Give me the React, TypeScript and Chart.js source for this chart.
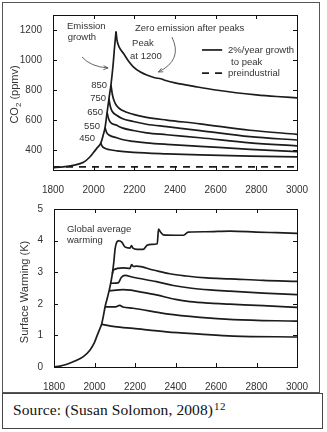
import React, { useEffect, useRef } from "react";
import { Chart, registerables } from "chart.js";

Chart.register(...registerables);

// ---------- DATA ----------
const yearTicks = [1800, 2000, 2200, 2400, 2600, 2800, 3000];
const co2Ticks = [400, 600, 800, 1000, 1200];
const tempTicks = [0, 1, 2, 3, 4, 5];

// CO2 (ppmv)
const co2GrowthYears = [1800, 1850, 1900, 1950, 1980, 2000, 2015, 2035, 2047, 2056, 2066, 2075, 2085, 2095, 2103, 2110];
const co2GrowthVals = [283, 288, 298, 318, 352, 385, 411, 446, 500, 550, 650, 740, 835, 960, 1090, 1190];

const co2P1200Years = [2110, 2114, 2120, 2130, 2146, 2170, 2195, 2230, 2261, 2300, 2330, 2350, 2400, 2460, 2500, 2600, 2700, 2800, 2900, 3000];
const co2P1200Vals = [1190, 1140, 1105, 1075, 1045, 995, 955, 920, 900, 882, 875, 865, 848, 833, 823, 800, 782, 768, 757, 748];

const co2P850Years = [2085, 2092, 2100, 2113, 2140, 2195, 2260, 2359, 2523, 2769, 3000];
const co2P850Vals = [835, 770, 730, 695, 665, 638, 618, 600, 575, 532, 505];

const co2P750Years = [2075, 2082, 2090, 2113, 2140, 2195, 2260, 2359, 2523, 2769, 3000];
const co2P750Vals = [740, 690, 660, 632, 610, 590, 572, 556, 530, 489, 467];

const co2P650Years = [2066, 2073, 2082, 2113, 2140, 2195, 2260, 2359, 2523, 2769, 3000];
const co2P650Vals = [650, 610, 585, 565, 548, 530, 515, 502, 482, 448, 428];

const co2P550Years = [2056, 2063, 2075, 2113, 2140, 2195, 2260, 2359, 2523, 2769, 3000];
const co2P550Vals = [550, 520, 500, 482, 470, 458, 448, 438, 425, 405, 390];

const co2P450Years = [2035, 2042, 2055, 2080, 2113, 2195, 2359, 2523, 2769, 3000];
const co2P450Vals = [446, 425, 412, 402, 395, 385, 375, 368, 360, 355];

const preindustrialYears = [1800, 3000];
const preindustrialVals = [288, 288];

// Surface warming (K)
const tGrowthYears = [1800, 1830, 1860, 1900, 1945, 1978, 2000, 2011, 2027, 2035, 2044, 2052, 2062, 2072, 2080, 2088, 2095, 2102, 2110, 2122];
const tGrowthVals = [0, 0.03, 0.08, 0.18, 0.33, 0.54, 0.78, 0.96, 1.22, 1.35, 1.62, 1.9, 2.15, 2.41, 2.65, 2.95, 3.3, 3.75, 3.95, 4.0];

const t1200Years = [2122, 2135, 2150, 2175, 2183, 2190, 2210, 2240, 2260, 2282, 2310, 2316, 2325, 2340, 2400, 2440, 2463, 2550, 2669, 2800, 2900, 3000];
const t1200Vals = [4.0, 3.95, 3.8, 3.76, 3.84, 3.76, 3.72, 3.72, 3.85, 3.88, 3.9, 4.36, 4.28, 4.18, 4.17, 4.17, 4.27, 4.28, 4.3, 4.27, 4.25, 4.23];

const t850Years = [2088, 2093, 2142, 2175, 2183, 2192, 2207, 2290, 2372, 2454, 2553, 2669, 2833, 3000];
const t850Vals = [2.95, 3.07, 3.14, 3.12, 3.24, 3.18, 3.19, 3.07, 2.95, 2.88, 2.82, 2.79, 2.74, 2.71];

const t750Years = [2080, 2117, 2133, 2150, 2191, 2306, 2389, 2471, 2570, 2669, 2833, 3000];
const t750Vals = [2.65, 2.66, 2.84, 2.9, 2.84, 2.7, 2.58, 2.5, 2.44, 2.4, 2.34, 2.29];

const t650Years = [2072, 2142, 2180, 2224, 2306, 2400, 2471, 2570, 2669, 2833, 3000];
const t650Vals = [2.41, 2.45, 2.43, 2.38, 2.28, 2.14, 2.07, 2.02, 1.99, 1.94, 1.89];

const t550Years = [2052, 2100, 2125, 2140, 2191, 2356, 2521, 2686, 3000];
const t550Vals = [1.9, 1.9, 1.95, 1.9, 1.86, 1.68, 1.57, 1.5, 1.45];

const t450Years = [2035, 2100, 2191, 2356, 2521, 2686, 3000];
const t450Vals = [1.35, 1.28, 1.22, 1.11, 1.04, 0.98, 0.95];

// labels
const scenarioLabels = ["850", "750", "650", "550", "450"];
const scenarioLabelPos = [
  [2066, 833],
  [2061, 747],
  [2046, 653],
  [2031, 560],
  [2007, 480],
];

// ---------- STYLE ----------
const SANS = "'Liberation Sans', Arial, sans-serif";
const TXT = "#333";
const LINE = "#1c1c1c";

const pts = (xs: number[], ys: number[]) => xs.map((x, i) => ({ x, y: ys[i] }));

const lineDs = (data: any, dash: number[] = []) => ({
  data,
  borderColor: LINE,
  borderWidth: 1.7,
  pointRadius: 0,
  fill: false,
  cubicInterpolationMode: "monotone" as const,
  borderDash: dash,
});

function frameAndTicks(chart: any, xt: number[], yt: number[]) {
  const { ctx, chartArea: a, scales } = chart;
  ctx.save();
  ctx.strokeStyle = "#111";
  ctx.lineWidth = 1;
  ctx.strokeRect(Math.round(a.left) + 0.5, Math.round(a.top) + 0.5, Math.round(a.right - a.left), Math.round(a.bottom - a.top));
  ctx.beginPath();
  const tl = 4;
  xt.forEach((v) => {
    const x = Math.round(scales.x.getPixelForValue(v)) + 0.5;
    ctx.moveTo(x, a.bottom);
    ctx.lineTo(x, a.bottom - tl);
    ctx.moveTo(x, a.top);
    ctx.lineTo(x, a.top + tl);
  });
  yt.forEach((v) => {
    const y = Math.round(scales.y.getPixelForValue(v)) + 0.5;
    ctx.moveTo(a.left, y);
    ctx.lineTo(a.left + tl, y);
    ctx.moveTo(a.right, y);
    ctx.lineTo(a.right - tl, y);
  });
  ctx.stroke();
  ctx.restore();
}

function arrow(ctx: any, p0: number[], c: number[], p1: number[]) {
  ctx.beginPath();
  ctx.moveTo(p0[0], p0[1]);
  ctx.quadraticCurveTo(c[0], c[1], p1[0], p1[1]);
  ctx.stroke();
  const ang = Math.atan2(p1[1] - c[1], p1[0] - c[0]);
  const L = 5;
  ctx.beginPath();
  ctx.moveTo(p1[0], p1[1]);
  ctx.lineTo(p1[0] - L * Math.cos(ang - 0.4), p1[1] - L * Math.sin(ang - 0.4));
  ctx.moveTo(p1[0], p1[1]);
  ctx.lineTo(p1[0] - L * Math.cos(ang + 0.4), p1[1] - L * Math.sin(ang + 0.4));
  ctx.stroke();
}

const co2Plugin = {
  id: "co2Deco",
  afterDatasetsDraw(chart: any) {
    const { ctx, scales, chartArea: a } = chart;
    const P = (x: number, y: number) => [scales.x.getPixelForValue(x), scales.y.getPixelForValue(y)];
    frameAndTicks(chart, yearTicks, co2Ticks);
    ctx.save();
    ctx.fillStyle = TXT;
    ctx.font = `9.5px ${SANS}`;
    ctx.textBaseline = "middle";
    ctx.textAlign = "left";
    let p = P(1869, 1227);
    ctx.fillText("Emission", p[0], p[1]);
    p = P(1872, 1153);
    ctx.fillText("growth", p[0], p[1]);
    p = P(2203, 1213);
    ctx.fillText("Zero emission after peaks", p[0], p[1]);
    p = P(2189, 1113);
    ctx.fillText("Peak", p[0], p[1]);
    p = P(2179, 1027);
    ctx.fillText("at 1200", p[0], p[1]);
    // legend
    p = P(2661, 1067);
    ctx.fillText("2%/year growth", p[0], p[1]);
    p = P(2676, 987);
    ctx.fillText("to peak", p[0], p[1]);
    p = P(2661, 913);
    ctx.fillText("preindustrial", p[0], p[1]);
    ctx.strokeStyle = LINE;
    ctx.lineWidth = 1.7;
    const l0 = P(2533, 1067);
    const l1 = P(2632, 1067);
    ctx.beginPath();
    ctx.moveTo(l0[0], l0[1]);
    ctx.lineTo(l1[0], l1[1]);
    ctx.stroke();
    const d0 = P(2533, 913);
    const d1 = P(2632, 913);
    ctx.setLineDash([7, 6]);
    ctx.beginPath();
    ctx.moveTo(d0[0], d0[1]);
    ctx.lineTo(d1[0], d1[1]);
    ctx.stroke();
    ctx.setLineDash([]);
    // scenario labels
    ctx.textAlign = "right";
    scenarioLabels.forEach((s, i) => {
      const q = P(scenarioLabelPos[i][0], scenarioLabelPos[i][1]);
      ctx.fillText(s, q[0], q[1]);
    });
    // arrows
    ctx.strokeStyle = "#555";
    ctx.lineWidth = 0.9;
    arrow(ctx, P(1943, 1020), P(1985, 955), P(2071, 947));
    arrow(ctx, P(2385, 1153), P(2440, 1000), P(2318, 920));
    // y title
    ctx.translate(15, (a.top + a.bottom) / 2 + 2);
    ctx.rotate(-Math.PI / 2);
    ctx.font = `11px ${SANS}`;
    ctx.textAlign = "left";
    const w1 = ctx.measureText("CO").width;
    ctx.font = `8px ${SANS}`;
    const w2 = ctx.measureText("2").width;
    ctx.font = `11px ${SANS}`;
    const w3 = ctx.measureText(" (ppmv)").width;
    const total = w1 + w2 + w3;
    let x0 = -total / 2;
    ctx.fillText("CO", x0, 0);
    ctx.font = `8px ${SANS}`;
    ctx.fillText("2", x0 + w1, 4);
    ctx.font = `11px ${SANS}`;
    ctx.fillText(" (ppmv)", x0 + w1 + w2, 0);
    ctx.restore();
  },
};

const tempPlugin = {
  id: "tempDeco",
  afterDatasetsDraw(chart: any) {
    const { ctx, scales, chartArea: a } = chart;
    const P = (x: number, y: number) => [scales.x.getPixelForValue(x), scales.y.getPixelForValue(y)];
    frameAndTicks(chart, yearTicks, tempTicks);
    ctx.save();
    ctx.fillStyle = TXT;
    ctx.font = `9.5px ${SANS}`;
    ctx.textBaseline = "middle";
    ctx.textAlign = "left";
    let p = P(1864, 4.37);
    ctx.fillText("Global average", p[0], p[1]);
    p = P(1864, 4.02);
    ctx.fillText("warming", p[0], p[1]);
    ctx.translate(25, (a.top + a.bottom) / 2 + 4);
    ctx.rotate(-Math.PI / 2);
    ctx.font = `11px ${SANS}`;
    ctx.textAlign = "center";
    ctx.fillText("Surface Warming (K)", 0, 0);
    ctx.restore();
  },
};

function makeOptions(yMin: number, yMax: number, yt: number[], padTop: number, axisH: number, axisW: number) {
  return {
    animation: false as const,
    responsive: false,
    maintainAspectRatio: false,
    events: [] as any[],
    layout: { padding: { top: padTop, right: 30, left: 0, bottom: 0 } },
    plugins: { legend: { display: false }, tooltip: { enabled: false } },
    scales: {
      x: {
        type: "linear" as const,
        min: 1800,
        max: 3000,
        afterBuildTicks: (s: any) => {
          s.ticks = yearTicks.map((v) => ({ value: v }));
        },
        afterFit: (s: any) => {
          s.height = axisH;
        },
        grid: { display: false },
        border: { display: false },
        ticks: {
          padding: 6,
          color: TXT,
          font: { family: SANS, size: 10 },
          maxRotation: 0,
          autoSkip: false,
          callback: (v: any) => String(v),
        },
      },
      y: {
        type: "linear" as const,
        min: yMin,
        max: yMax,
        afterBuildTicks: (s: any) => {
          s.ticks = yt.map((v) => ({ value: v }));
        },
        afterFit: (s: any) => {
          s.width = axisW;
        },
        grid: { display: false },
        border: { display: false },
        ticks: {
          padding: 3,
          color: TXT,
          font: { family: SANS, size: 10 },
          autoSkip: false,
          callback: (v: any) => String(v),
        },
      },
    },
  };
}

export default function App() {
  const topRef = useRef<HTMLCanvasElement>(null);
  const botRef = useRef<HTMLCanvasElement>(null);

  useEffect(() => {
    const c1 = new Chart(topRef.current as HTMLCanvasElement, {
      type: "line",
      data: {
        datasets: [
          lineDs(pts(preindustrialYears, preindustrialVals), [7, 6]),
          lineDs(pts(co2GrowthYears, co2GrowthVals)),
          lineDs(pts(co2P1200Years, co2P1200Vals)),
          lineDs(pts(co2P850Years, co2P850Vals)),
          lineDs(pts(co2P750Years, co2P750Vals)),
          lineDs(pts(co2P650Years, co2P650Vals)),
          lineDs(pts(co2P550Years, co2P550Vals)),
          lineDs(pts(co2P450Years, co2P450Vals)),
        ] as any,
      },
      options: makeOptions(267, 1300, co2Ticks, 15, 25, 53) as any,
      plugins: [co2Plugin],
    });
    const c2 = new Chart(botRef.current as HTMLCanvasElement, {
      type: "line",
      data: {
        datasets: [
          lineDs(pts(tGrowthYears, tGrowthVals)),
          lineDs(pts(t1200Years, t1200Vals)),
          lineDs(pts(t850Years, t850Vals)),
          lineDs(pts(t750Years, t750Vals)),
          lineDs(pts(t650Years, t650Vals)),
          lineDs(pts(t550Years, t550Vals)),
          lineDs(pts(t450Years, t450Vals)),
        ] as any,
      },
      options: makeOptions(0, 5, tempTicks, 14, 23, 54) as any,
      plugins: [tempPlugin],
    });
    return () => {
      c1.destroy();
      c2.destroy();
    };
  }, []);

  return (
    <div style={{ position: "absolute", left: 0, top: 0, width: 327, height: 432, background: "#fff" }}>
      <div style={{ position: "absolute", left: 2, top: 2, width: 318, height: 391, border: "1px solid #555", boxSizing: "border-box" }} />
      <canvas ref={topRef} width={327} height={195} style={{ position: "absolute", left: 0, top: 0, width: 327, height: 195 }} />
      <canvas ref={botRef} width={327} height={195} style={{ position: "absolute", left: 0, top: 195, width: 327, height: 195 }} />
      <div
        style={{
          position: "absolute",
          left: 2,
          top: 393,
          width: 321,
          height: 36,
          border: "1px solid #444",
          boxSizing: "border-box",
          fontFamily: "'Liberation Serif', 'Times New Roman', serif",
          fontSize: 15.5,
          letterSpacing: "0.1px",
          color: "#111",
          paddingLeft: 10,
          lineHeight: "31px",
          whiteSpace: "nowrap",
        }}
      >
        Source: (Susan Solomon, 2008)
        <sup style={{ fontSize: 11, verticalAlign: "top", lineHeight: "24px", marginLeft: 1, letterSpacing: "0.5px" }}>12</sup>
      </div>
    </div>
  );
}
